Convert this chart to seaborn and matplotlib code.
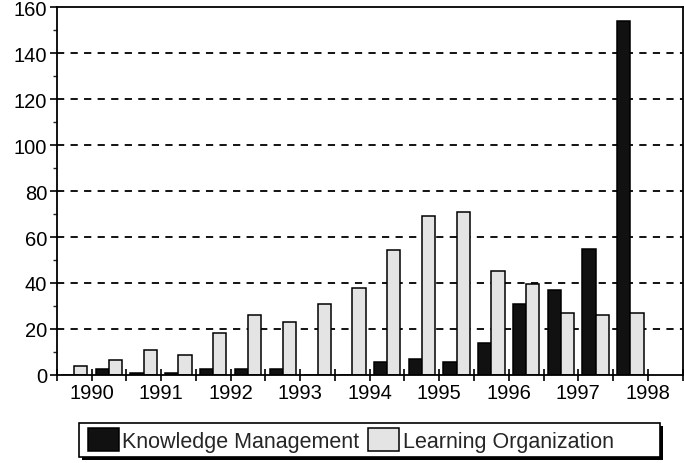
import numpy as np
import pandas as pd
import matplotlib
matplotlib.use("Agg")
import matplotlib.pyplot as plt
from matplotlib.patches import Rectangle
import seaborn as sns

# half-year slots, year labels sit on every second slot boundary
periods = ["p%02d" % i for i in range(1, 19)]
years = ["1990", "1991", "1992", "1993", "1994", "1995", "1996", "1997", "1998"]
km = [0, 2.5, 1, 1, 2.5, 2.5, 2.5, 0, 0, 5.7, 6.9, 5.7, 13.7, 31, 37, 55, 154]
lo = [4, 6.4, 11, 8.7, 18, 26, 23, 31, 38, 54.5, 69, 71, 45, 39.6, 27, 26.2, 27]
series = ["Knowledge Management", "Learning Organization"]

rows = []
for i in range(len(km)):
    rows.append({"period": periods[i], "series": series[0], "value": km[i]})
    rows.append({"period": periods[i], "series": series[1], "value": lo[i]})
df = pd.DataFrame(rows)

sns.set_style("ticks")
plt.rcParams["font.family"] = ["Liberation Sans", "DejaVu Sans"]

W, H = 684, 464
fig = plt.figure(figsize=(6.84, 4.64), dpi=100)
ax = fig.add_axes([0.083, 0.19, 0.915, 0.792])

sns.barplot(data=df, x="period", y="value", hue="series", order=periods,
            hue_order=series, palette=["#111111", "#e4e4e4"], width=0.76,
            edgecolor="black", linewidth=1.1, errorbar=None, ax=ax)

ax.set_xlim(-0.5, 17.5)
ax.set_ylim(0, 160)
ax.set_yticks(np.arange(0, 161, 20))
ax.set_yticks(np.arange(10, 160, 20), minor=True)
ax.tick_params(axis="y", which="major", direction="out", length=5, width=1.2,
               labelsize=14.5, colors="black", pad=2)
ax.tick_params(axis="y", which="minor", direction="out", length=3, width=1)

bounds = np.arange(-0.5, 18, 1.0)
labels = []
for j, b in enumerate(bounds):
    labels.append(years[(j - 1) // 2] if j % 2 == 1 else "")
ax.set_xticks(bounds)
ax.set_xticklabels(labels)
ax.tick_params(axis="x", direction="inout", length=8, width=1.2,
               labelsize=14.5, pad=2, colors="black")

for y in range(20, 160, 20):
    ax.axhline(y, color="black", lw=1.3, ls=(0, (4, 3.5)), zorder=0.5)

for s in ax.spines.values():
    s.set_color("black")
    s.set_linewidth(1.3)

ax.set_xlabel("")
ax.set_ylabel("")

handles, labs = ax.get_legend_handles_labels()
ax.get_legend().remove()
leg = fig.legend(handles, labs, loc="center left", bbox_to_anchor=(88 / W, 1 - 441 / H),
                 ncol=2, fontsize=15.5, frameon=False,
                 handlelength=1.45, handleheight=1.3, handletextpad=0.15,
                 columnspacing=0.4, borderpad=0, borderaxespad=0)

# legend box with a drop shadow, wider than its content as in the original
bx0, bx1, by0, by1 = 79, 660, 424, 458
fig.patches.append(Rectangle(((bx0 + 3) / W, 1 - (by1 + 3) / H), (bx1 - bx0) / W,
                             (by1 - by0) / H, transform=fig.transFigure,
                             facecolor="black", edgecolor="none", zorder=0))
fig.patches.append(Rectangle((bx0 / W, 1 - by1 / H), (bx1 - bx0) / W,
                             (by1 - by0) / H, transform=fig.transFigure,
                             facecolor="white", edgecolor="black", lw=1.2, zorder=1))

fig.savefig("out.png", dpi=100)
